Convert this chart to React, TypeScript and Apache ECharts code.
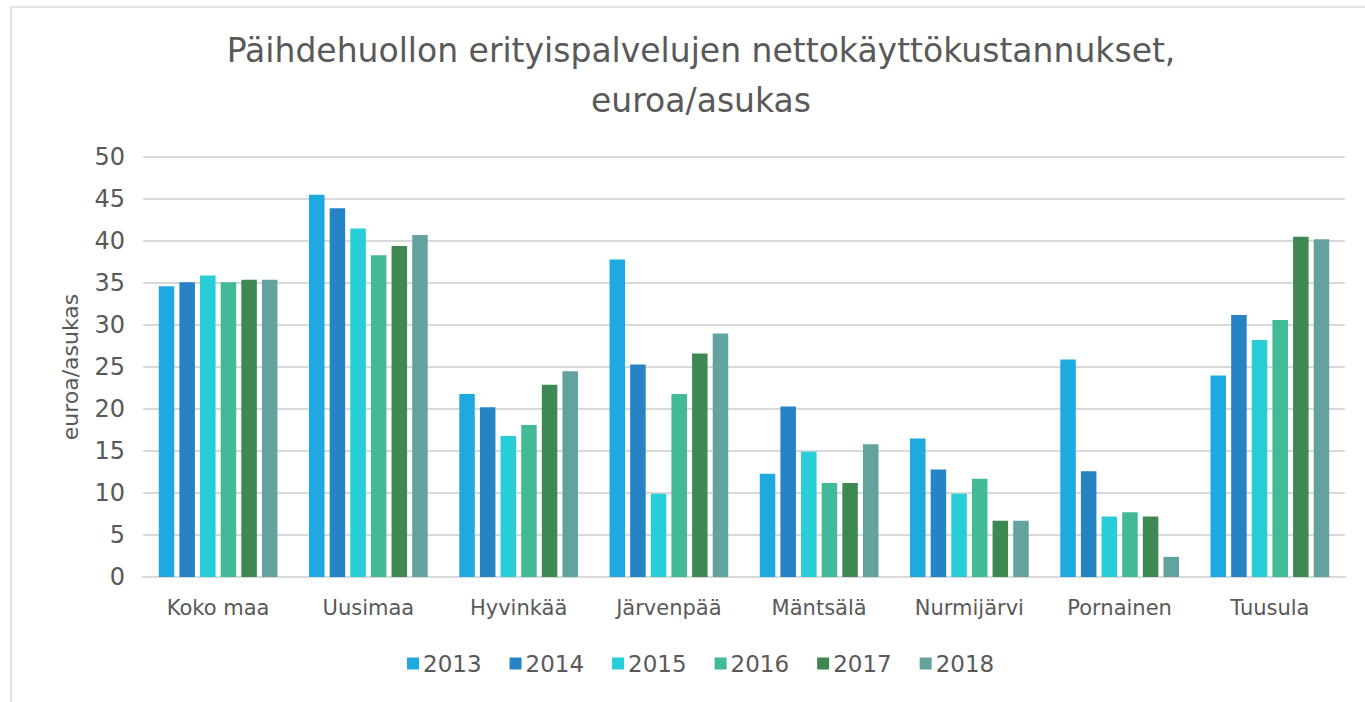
import React, { useEffect, useRef } from "react";
import * as echarts from "echarts";

const categories = ["Koko maa", "Uusimaa", "Hyvinkää", "Järvenpää", "Mäntsälä", "Nurmijärvi", "Pornainen", "Tuusula"];
const years = ["2013", "2014", "2015", "2016", "2017", "2018"];
const v2013 = [34.6, 45.5, 21.8, 37.8, 12.3, 16.5, 25.9, 24.0];
const v2014 = [35.1, 43.9, 20.2, 25.3, 20.3, 12.8, 12.6, 31.2];
const v2015 = [35.9, 41.5, 16.8, 9.9, 14.9, 9.9, 7.2, 28.2];
const v2016 = [35.1, 38.3, 18.1, 21.8, 11.2, 11.7, 7.7, 30.6];
const v2017 = [35.4, 39.4, 22.9, 26.6, 11.2, 6.7, 7.2, 40.5];
const v2018 = [35.4, 40.7, 24.5, 29.0, 15.8, 6.7, 2.4, 40.2];
const seriesValues = [v2013, v2014, v2015, v2016, v2017, v2018];
const colors = ["#1EA9E1", "#2683C6", "#27CED7", "#42BA97", "#3E8853", "#62A39F"];

const titleText = "Päihdehuollon erityispalvelujen nettokäyttökustannukset,\neuroa/asukas";
const yAxisName = "euroa/asukas";

const FONT = "'DejaVu Sans', 'Open Sans', sans-serif";
const TEXT_COLOR = "#595959";

export default function App() {
  const ref = useRef<HTMLDivElement>(null);
  useEffect(() => {
    document.body.style.margin = "0";
    if (!ref.current) return;
    const chart = echarts.init(ref.current, null, { renderer: "svg" });
    chart.setOption({
      animation: false,
      backgroundColor: "#ffffff",
      color: colors,
      title: {
        text: titleText,
        left: 696,
        textAlign: "center",
        top: 20,
        textStyle: {
          fontFamily: FONT,
          fontSize: 33,
          fontWeight: "normal",
          color: TEXT_COLOR,
          lineHeight: 50,
          align: "center",
        },
      },
      legend: {
        data: years,
        top: 647,
        left: 402,
        itemWidth: 12,
        itemHeight: 12,
        itemGap: 28,
        icon: "rect",
        textStyle: { fontFamily: FONT, fontSize: 23, color: TEXT_COLOR, padding: [0, 0, 0, -1] },
      },
      grid: { left: 143, right: 20, top: 157, bottom: 125 },
      xAxis: {
        type: "category",
        data: categories,
        axisTick: { show: false },
        axisLine: { lineStyle: { color: "#D9D9D9", width: 2 } },
        axisLabel: { fontFamily: FONT, fontSize: 21, color: TEXT_COLOR, margin: 20 },
      },
      yAxis: {
        type: "value",
        min: 0,
        max: 50,
        interval: 5,
        name: yAxisName,
        nameLocation: "middle",
        nameGap: 62,
        nameTextStyle: { fontFamily: FONT, fontSize: 22, color: TEXT_COLOR },
        axisLine: { show: false },
        axisTick: { show: false },
        axisLabel: { fontFamily: FONT, fontSize: 24, color: TEXT_COLOR, margin: 18 },
        splitLine: { lineStyle: { color: "#D9D9D9", width: 2 } },
      },
      graphic: [
        { type: "rect", shape: { x: 10, y: 6, width: 1355, height: 2 }, style: { fill: "#E4E4E4" }, silent: true },
        { type: "rect", shape: { x: 10, y: 6, width: 2, height: 696 }, style: { fill: "#E4E4E4" }, silent: true },
      ],
      series: years.map((y, i) => ({
        name: y,
        type: "bar",
        data: seriesValues[i],
        barGap: "33%",
        barCategoryGap: "21%",
        itemStyle: { color: colors[i] },
      })),
    });
    return () => chart.dispose();
  }, []);
  return <div ref={ref} style={{ width: 1365, height: 702, position: "absolute", left: 0, top: 0 }} />;
}
